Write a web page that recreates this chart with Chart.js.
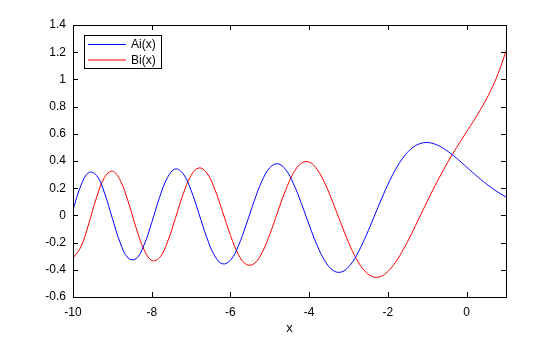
<!DOCTYPE html>
<html>
<head>
<meta charset="utf-8">
<script src="https://cdn.jsdelivr.net/npm/chart.js@4"></script>
<style>
  html, body { margin: 0; padding: 0; background: #fff; }
  #wrap { width: 560px; height: 337px; }
</style>
</head>
<body>
<div id="wrap"><canvas id="airy" width="560" height="337"></canvas></div>
<script>
// values, x step 0.2
let xValues = [-10, -9.8, -9.6, -9.4, -9.2, -9, -8.8, -8.6, -8.4, -8.2, -8, -7.8, -7.6, -7.4, -7.2, -7,
  -6.8, -6.6, -6.4, -6.2, -6, -5.8, -5.6, -5.4, -5.2, -5, -4.8, -4.6, -4.4, -4.2, -4, -3.8, -3.6,
  -3.4, -3.2, -3, -2.8, -2.6, -2.4, -2.2, -2, -1.8, -1.6, -1.4, -1.2, -1, -0.8, -0.6, -0.4, -0.2,
  0, 0.2, 0.4, 0.6, 0.8, 1]

let aiValues = [0.0402, 0.2189, 0.3147, 0.2935, 0.1653, -0.0221, -0.2021, -0.3131, -0.3196, -0.2216,
  -0.0527, 0.1329, 0.2782, 0.3413, 0.3059, 0.1843, 0.0121, -0.1635, -0.2971, -0.3564, -0.3291,
  -0.2244, -0.0683, 0.1029, 0.2526, 0.3508, 0.3800, 0.3375, 0.2337, 0.0892, -0.0703, -0.2188,
  -0.3348, -0.4032, -0.4175, -0.3789, -0.2952, -0.1787, -0.0437, 0.0957, 0.2274, 0.3408, 0.4299,
  0.4917, 0.5262, 0.5356, 0.5236, 0.4948, 0.4542, 0.4063, 0.3550, 0.3037, 0.2547, 0.2098, 0.1698, 0.1353]

let biValues = [-0.3147, -0.2319, -0.0609, 0.1329, 0.2786, 0.3249, 0.2578, 0.1024, -0.0875, -0.2490,
  -0.3313, -0.3103, -0.1949, -0.0216, 0.1582, 0.2938, 0.3491, 0.3116, 0.1935, 0.0268, -0.1467,
  -0.2859, -0.3602, -0.3553, -0.2750, -0.1384, 0.0257, 0.1851, 0.3112, 0.3835, 0.3922, 0.3391,
  0.2349, 0.0971, -0.0539, -0.1982, -0.3193, -0.4051, -0.4493, -0.4510, -0.4123, -0.3414, -0.2460,
  -0.1347, -0.0158, 0.1040, 0.2198, 0.3288, 0.4300, 0.5245, 0.6149, 0.7055, 0.8018, 0.9111, 1.0424, 1.2074]

let seriesNames = ['Ai(x)', 'Bi(x)']
let xTicks = [-10, -8, -6, -4, -2, 0]
let yTicks = [-0.6, -0.4, -0.2, 0, 0.2, 0.4, 0.6, 0.8, 1, 1.2, 1.4]

let fontName = '"Liberation Sans", Arial, Helvetica, sans-serif'

function toPoints(ys) {
    return xValues.map(function(x, i) { return { x: x, y: ys[i] } })
}

// MATLAB style box with ticks pointing inwards, and the legend box
let boxPlugin = {
    id: 'box',
    afterDraw: function(chart) {
        let ctx = chart.ctx
        let area = chart.chartArea
        let xs = chart.scales.x
        let ys = chart.scales.y
        let len = 5
        ctx.save()
        ctx.strokeStyle = '#000'
        ctx.lineWidth = 1
        ctx.beginPath()
        xs.ticks.forEach(function(t) {
            let px = Math.round(xs.getPixelForValue(t.value)) + 0.5
            ctx.moveTo(px, area.bottom); ctx.lineTo(px, area.bottom - len)
            ctx.moveTo(px, area.top); ctx.lineTo(px, area.top + len)
        })
        ys.ticks.forEach(function(t) {
            let py = Math.round(ys.getPixelForValue(t.value)) + 0.5
            ctx.moveTo(area.left, py); ctx.lineTo(area.left + len, py)
            ctx.moveTo(area.right, py); ctx.lineTo(area.right - len, py)
        })
        ctx.stroke()
        ctx.strokeRect(Math.round(area.left) + 0.5, Math.round(area.top) + 0.5,
            Math.round(area.right - area.left), Math.round(area.bottom - area.top))

        // legend
        let lx = 84.5, ly = 35.5, lw = 77, lh = 33
        ctx.fillStyle = '#fff'
        ctx.fillRect(lx, ly, lw, lh)
        ctx.strokeRect(lx, ly, lw, lh)
        ctx.font = '12px ' + fontName
        ctx.textBaseline = 'middle'
        chart.data.datasets.forEach(function(ds, i) {
            let y = 44.5 + i * 15.5
            ctx.strokeStyle = ds.borderColor
            ctx.beginPath()
            ctx.moveTo(88, y); ctx.lineTo(126, y)
            ctx.stroke()
            ctx.fillStyle = '#000'
            ctx.fillText(ds.label, 131, y + 0.5)
        })
        ctx.restore()
    }
}

let airyChart = new Chart(document.querySelector('#airy'), {
    type: 'line',
    data: {
        datasets: [
            { label: seriesNames[0], data: toPoints(aiValues), borderColor: '#0000ff' },
            { label: seriesNames[1], data: toPoints(biValues), borderColor: '#ff0000' }
        ]
    },
    options: {
        responsive: false,
        animation: false,
        layout: { padding: { left: 0, top: 25, right: 54, bottom: 0 } },
        elements: {
            point: { radius: 0 },
            line: { borderWidth: 1, tension: 0.4, fill: false }
        },
        plugins: { legend: { display: false }, tooltip: { enabled: false } },
        scales: {
            x: {
                type: 'linear',
                min: -10,
                max: 1,
                afterBuildTicks: function(scale) { scale.ticks = xTicks.map(function(v) { return { value: v } }) },
                afterFit: function(scale) { scale.height = 40 },
                grid: { display: false, drawTicks: false },
                border: { display: false },
                ticks: {
                    padding: 8,
                    maxRotation: 0,
                    color: '#000',
                    font: { family: fontName, size: 12 },
                    callback: function(v) { return String(v) }
                },
                title: {
                    display: true,
                    text: 'x',
                    color: '#000',
                    font: { family: fontName, size: 13 },
                    padding: { top: 0, bottom: 1 }
                }
            },
            y: {
                min: -0.6,
                max: 1.4,
                afterBuildTicks: function(scale) { scale.ticks = yTicks.map(function(v) { return { value: v } }) },
                afterFit: function(scale) { scale.width = 73 },
                grid: { display: false, drawTicks: false },
                border: { display: false },
                ticks: {
                    padding: 7,
                    color: '#000',
                    font: { family: fontName, size: 12 },
                    callback: function(v) { return String(Math.round(v * 10) / 10) }
                }
            }
        }
    },
    plugins: [boxPlugin]
})
</script>
</body>
</html>
